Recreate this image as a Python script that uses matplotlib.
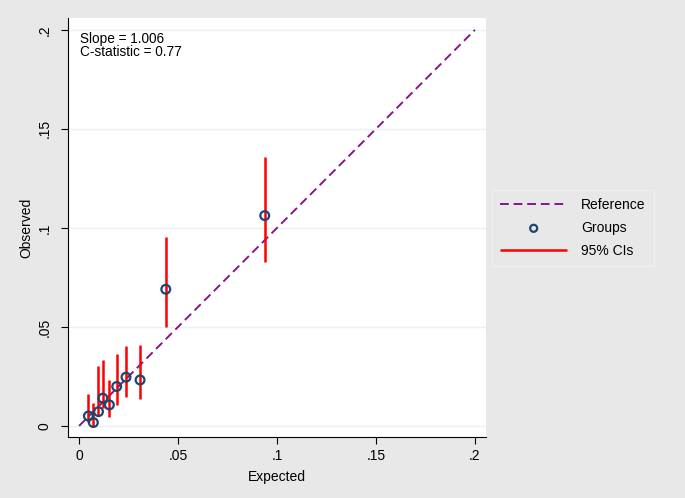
import matplotlib
matplotlib.use("Agg")
import matplotlib.pyplot as plt

plt.rcParams['font.family'] = ['Liberation Sans', 'DejaVu Sans']

# calibration groups: expected vs observed with 95% CIs
expected = [0.0047, 0.0072, 0.0098, 0.0120, 0.0153, 0.0190, 0.0237, 0.0308, 0.0438, 0.0938]
observed = [0.0050, 0.0017, 0.0072, 0.0140, 0.0106, 0.0199, 0.0246, 0.0232, 0.0690, 0.1062]
ci_low = [0.0022, 0.0000, 0.0056, 0.0089, 0.0047, 0.0106, 0.0148, 0.0135, 0.0498, 0.0830]
ci_high = [0.0160, 0.0115, 0.0300, 0.0333, 0.0232, 0.0364, 0.0406, 0.0409, 0.0953, 0.1359]

ref_line = [0, 0.2]
ticks = [0, 0.05, 0.1, 0.15, 0.2]
tick_labels = ['0', '.05', '.1', '.15', '.2']

bg = '#e8e8e8'
fig = plt.figure(figsize=(6.85, 4.98), dpi=100, facecolor=bg)
ax = fig.add_axes([0.0993, 0.1225, 0.6102, 0.8414])
ax.set_facecolor('white')

for t in ticks:
    ax.axhline(t, color='#eaf2f3', lw=1, zorder=0)

ax.plot(ref_line, ref_line, color='#86168a', lw=1.4, ls=(0, (4.5, 2.5)), label='Reference', zorder=2)
ax.scatter(expected, observed, s=40, facecolors='none', edgecolors='#1a476f', linewidths=1.6,
           label='Groups', zorder=4)
ax.vlines(expected, ci_low, ci_high, color='red', lw=1.8, label='95% CIs', zorder=3)

ax.set_xlim(-0.0056, 0.2056)
ax.set_ylim(-0.0056, 0.206)
ax.set_xticks(ticks)
ax.set_xticklabels(tick_labels)
ax.set_yticks(ticks)
ax.set_yticklabels(tick_labels, rotation=90, va='center')
ax.tick_params(direction='out', length=5, width=0.8, labelsize=10, color='black')
ax.tick_params(axis='y', pad=7)

for side in ['top', 'right']:
    ax.spines[side].set_visible(False)
for side in ['left', 'bottom']:
    ax.spines[side].set_linewidth(0.8)

ax.set_xlabel('Expected', fontsize=10, labelpad=5)
ax.set_ylabel('Observed', fontsize=10, labelpad=3)

ax.text(0.0006, 0.1955, 'Slope = 1.006', fontsize=9.8, va='center')
ax.text(0.0006, 0.1890, 'C-statistic = 0.77', fontsize=9.8, va='center')

handles, labels = ax.get_legend_handles_labels()
order = [labels.index(n) for n in ['Reference', 'Groups', '95% CIs']]
leg = fig.legend([handles[i] for i in order], [labels[i] for i in order],
                 loc='upper left', bbox_to_anchor=(492 / 685, 1 - 190 / 498),
                 borderaxespad=0, fontsize=10, frameon=True, fancybox=False, facecolor=bg,
                 edgecolor='#f2f2f2', handlelength=4.8, borderpad=0.6, labelspacing=0.62,
                 handletextpad=1.0, scatterpoints=1, markerscale=0.8)
leg.get_frame().set_linewidth(1)

fig.savefig('out.png', dpi=100, facecolor=bg)
